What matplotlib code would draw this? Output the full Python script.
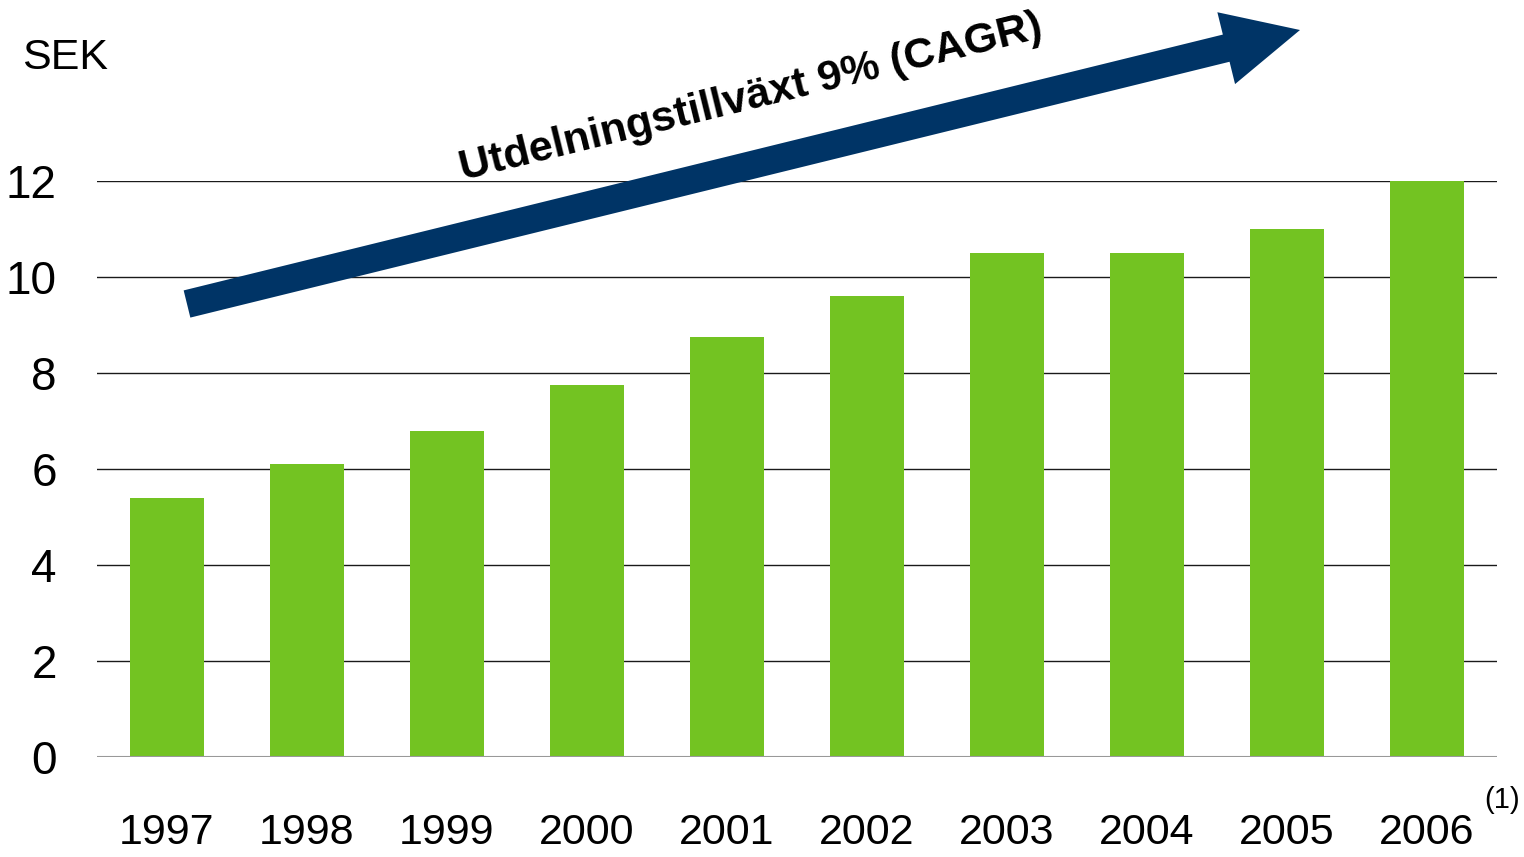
import numpy as np
import matplotlib
matplotlib.use('Agg')
from matplotlib import pyplot as plt
from matplotlib.patches import Polygon

# dividend per share, SEK
years = ['1997', '1998', '1999', '2000', '2001', '2002', '2003', '2004', '2005', '2006']
dividend = [5.4, 6.1, 6.8, 7.75, 8.75, 9.6, 10.5, 10.5, 11.0, 12.0]
yticks = [0, 2, 4, 6, 8, 10, 12]

plt.rcParams['font.family'] = ['Liberation Sans', 'DejaVu Sans']

W, H = 1524, 857
fig = plt.figure(figsize=(W/100., H/100.), dpi=100)
ax = fig.add_axes([97./W, 100./H, 1400./W, 576./H])

x = np.arange(len(years))
ax.bar(x, dividend, width=0.53, color='#73C322', zorder=2)

# grid lines
for yv in yticks[1:]:
    ax.axhline(yv, color='#1a1a1a', linewidth=1.0, zorder=1)
ax.axhline(0, color='#999999', linewidth=1.5, zorder=3)

ax.set_xlim(-0.5, len(years)-0.5)
ax.set_ylim(0, 12)
ax.set_xticks(x)
ax.set_xticklabels(years, fontsize=31)
ax.set_yticks(yticks)
ax.set_yticklabels([str(v) for v in yticks], fontsize=33)
ax.tick_params(axis='x', length=0, pad=40)
ax.tick_params(axis='y', length=0, pad=29)
for s in ax.spines.values():
    s.set_visible(False)

# unit label and footnote
fig.text(22./W, 1-58./H, 'SEK', fontsize=31, va='center', ha='left')
fig.text(1502./W, 1-800./H, '(1)', fontsize=21, va='center', ha='center')

# growth arrow (pixel coords, y down)
def px(p):
    return (p[0]/W, 1-p[1]/H)

tail = np.array([187., 304.])
tip = np.array([1300., 30.])
u = (tip - tail)/np.linalg.norm(tip - tail)
n = np.array([-u[1], u[0]])
base = tip - u*76
hw, hh = 14., 37.
pts = [tail + hw*n, base + hw*n, base + hh*n, tip, base - hh*n, base - hw*n, tail - hw*n]
arrow = Polygon([px(p) for p in pts], closed=True, transform=fig.transFigure,
                facecolor='#003466', edgecolor='none')
fig.patches.append(arrow)

ang = np.degrees(np.arctan2(-u[1], u[0]))
fig.text(751./W, 1-98./H, 'Utdelningstillväxt 9% (CAGR)', fontsize=31, fontweight='bold',
         rotation=ang, rotation_mode='anchor', ha='center', va='center')

plt.savefig('out.png', format='png', dpi=100)
plt.close()
